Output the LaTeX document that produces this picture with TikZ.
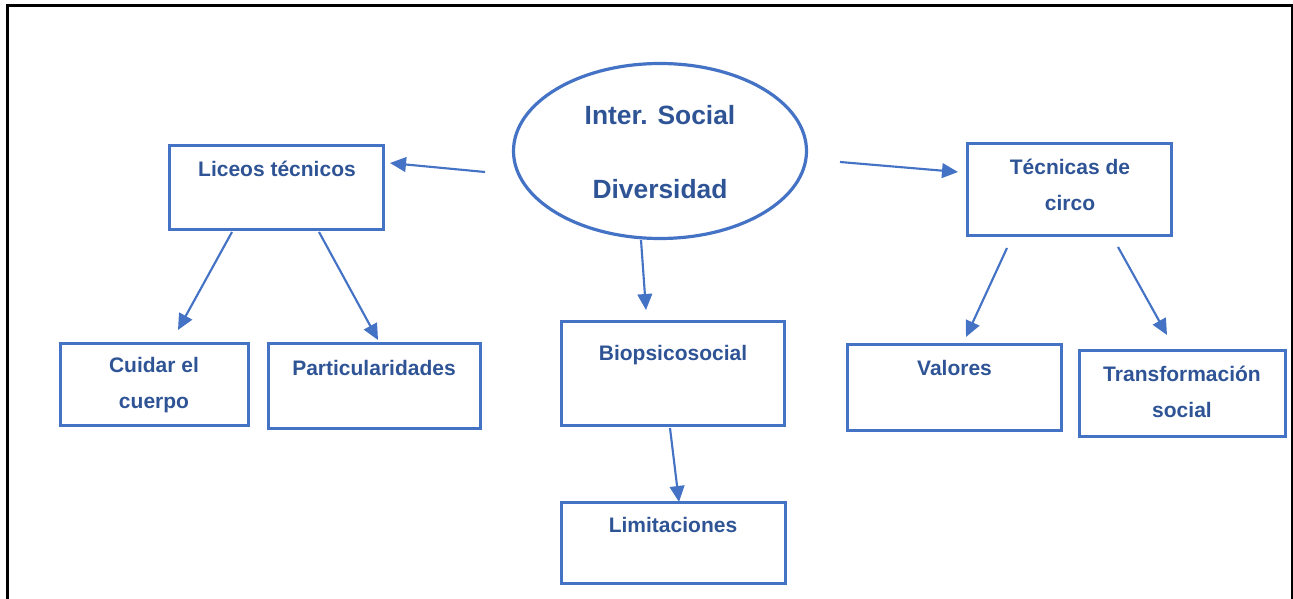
\documentclass[tikz,border=0pt]{standalone}
\usepackage{fontspec}
\setmainfont{Liberation Sans}
\usetikzlibrary{arrows.meta,shapes.geometric}
\definecolor{boxblue}{RGB}{68,114,196}
\definecolor{txtblue}{RGB}{47,84,150}
\tikzset{
  box/.style={draw=boxblue, line width=2.6pt, rectangle, inner sep=0pt},
  oval/.style={draw=boxblue, line width=2.4pt, ellipse, inner sep=0pt},
  lbl/.style={text=txtblue, font=\bfseries\fontsize{15.75}{27}\selectfont, align=center, inner sep=0pt},
  biglbl/.style={text=txtblue, font=\bfseries\fontsize{19.8}{56}\selectfont, align=center, inner sep=0pt},
  conn/.style={draw=boxblue, line width=1.6pt, -{Triangle[length=12pt,width=11pt]}}
}
\begin{document}
\begin{tikzpicture}[x=0.75pt,y=-0.75pt]
\useasboundingbox (0,0) rectangle (1293,599);
% outer frame
\draw[line width=2.25pt, black] (7,605) -- (7,6) -- (1292,6) -- (1292,605);
% shapes
\node[oval, minimum width=293*0.75pt, minimum height=175*0.75pt] (ell) at (660,151) {};
\node[box, minimum width=214*0.75pt, minimum height=84*0.75pt] (lic) at (276.5,187.5) {};
\node[box, minimum width=204*0.75pt, minimum height=92*0.75pt] (tec) at (1069.5,189.5) {};
\node[box, minimum width=188*0.75pt, minimum height=82*0.75pt] (cui) at (154.5,384.5) {};
\node[box, minimum width=212*0.75pt, minimum height=85*0.75pt] (par) at (374.5,386) {};
\node[box, minimum width=223*0.75pt, minimum height=104*0.75pt] (bio) at (673,373.5) {};
\node[box, minimum width=224*0.75pt, minimum height=81*0.75pt] (lim) at (673.5,543) {};
\node[box, minimum width=214*0.75pt, minimum height=86*0.75pt] (val) at (954.5,387.5) {};
\node[box, minimum width=206*0.75pt, minimum height=86*0.75pt] (tra) at (1182.5,393.5) {};
% texts
\node[biglbl] (tell) at (660,152) {Inter. Social\\Diversidad};
\node[lbl] (tlic) at (277,169) {Liceos técnicos};
\node[lbl] (ttec) at (1070,185) {Técnicas de\\circo};
\node[lbl] (tcui) at (154,385) {Cuidar el\\cuerpo};
\node[lbl] (tpar) at (374,368) {Particularidades};
\node[lbl] (tbio) at (673,355) {Biopsicosocial};
\node[lbl] (tlim) at (673,525) {Limitaciones};
\node[lbl] (tval) at (954.5,368) {Valores};
\node[lbl] (ttra) at (1182,391.5) {Transformación\\social};
% connector end points
\coordinate (e1) at (485,172); \coordinate (l1) at (390,163);
\coordinate (e2) at (840,162); \coordinate (t1) at (958,172);
\coordinate (e3) at (641,240); \coordinate (b1) at (646,310);
\coordinate (b2) at (670,428); \coordinate (m1) at (679,502);
\coordinate (l2) at (232,232); \coordinate (c1) at (178,330);
\coordinate (l3) at (319,232); \coordinate (p1) at (378,340);
\coordinate (t2) at (1007,248); \coordinate (v1) at (966,337);
\coordinate (t3) at (1118,247); \coordinate (r1) at (1167,335);
% connectors
\draw[conn] (e1) -- (l1);
\draw[conn] (e2) -- (t1);
\draw[conn] (e3) -- (b1);
\draw[conn] (b2) -- (m1);
\draw[conn] (l2) -- (c1);
\draw[conn] (l3) -- (p1);
\draw[conn] (t2) -- (v1);
\draw[conn] (t3) -- (r1);
\end{tikzpicture}
\end{document}
